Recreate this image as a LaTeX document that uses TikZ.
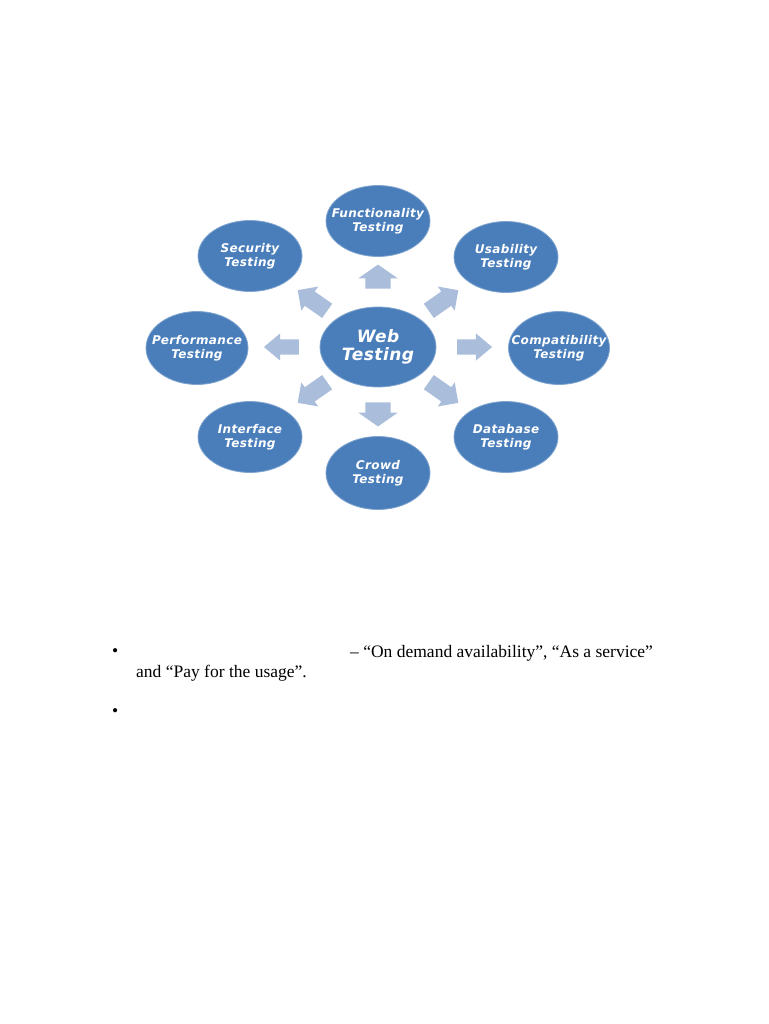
\documentclass[tikz,border=0pt]{standalone}
\usepackage{fontspec}
\setmainfont{Liberation Serif}
\newfontfamily\labfont{DejaVu Sans}[LetterSpace=3]
\usetikzlibrary{shapes.geometric,shapes.arrows}
\definecolor{ellblue}{HTML}{4A7EBB}
\definecolor{arrblue}{HTML}{AABEDC}
\tikzset{
  lab/.style={text=white, align=center, inner sep=0pt, font=\labfont\bfseries\itshape\fontsize{12}{14.5}\selectfont},
  biglab/.style={lab, font=\labfont\bfseries\itshape\fontsize{17}{18.5}\selectfont},
  outer/.style={ellipse, fill=ellblue, draw=ellblue!70!white, line width=0.8pt, minimum width=104pt, minimum height=71pt, inner sep=0pt},
  centre/.style={outer, minimum width=116pt, minimum height=80pt},
  varr/.style={single arrow, fill=arrblue, draw=none, inner xsep=0pt, inner ysep=12.5pt, minimum height=24pt, single arrow head extend=7pt, single arrow tip angle=110},
  harr/.style={single arrow, fill=arrblue, draw=none, inner xsep=0pt, inner ysep=7.5pt, minimum height=35pt, single arrow head extend=6pt, single arrow tip angle=80},
  darr/.style={single arrow, fill=arrblue, draw=none, inner xsep=0pt, inner ysep=8.5pt, minimum height=36pt, single arrow head extend=6pt, single arrow tip angle=90},
  body/.style={font=\fontsize{17.5}{24}\selectfont, anchor=base west, inner sep=0pt}
}
\begin{document}
\begin{tikzpicture}[x=1pt,y=-1pt]
\useasboundingbox[fill=white] (0,0) rectangle (768,1024);
% ellipses
\node[centre, label={[biglab]center:Web\\Testing}] (web) at (378,347) {};
\node[outer, label={[lab]center:Functionality\\Testing}] (func) at (378,221) {};
\node[outer, label={[lab]center:Usability\\Testing}] (usab) at (506,257) {};
\node[outer, minimum width=101pt, minimum height=73pt, label={[lab]center:Compatibility\\Testing}] (comp) at (559,348) {};
\node[outer, label={[lab]center:Database\\Testing}] (db) at (506,437) {};
\node[outer, minimum height=73pt, label={[lab]center:Crowd\\Testing}] (crowd) at (378,473) {};
\node[outer, label={[lab]center:Interface\\Testing}] (intf) at (250,437) {};
\node[outer, minimum width=102pt, minimum height=73pt, label={[lab]center:Performance\\Testing}] (perf) at (197,348) {};
\node[outer, label={[lab]center:Security\\Testing}] (sec) at (250,256) {};
% block arrows
\node[varr, rotate=90] (aup) at (378,281) {};
\node[varr, rotate=-90] (adown) at (378,410) {};
\node[harr, rotate=180] (aleft) at (286,347) {};
\node[harr] (aright) at (470,347) {};
\node[darr, rotate=145] (aul) at (316,303) {};
\node[darr, rotate=35] (aur) at (440,303) {};
\node[darr, rotate=-145] (all) at (316,390) {};
\node[darr, rotate=-35] (alr) at (440,390) {};
% text
\node[body] (b1) at (112,656) {•};
\node[body] (t1) at (350,657) {– “On demand availability”, “As a service”};
\node[body] (t2) at (136,677) {and “Pay for the usage”.};
\node[body] (b2) at (112,716) {•};
\end{tikzpicture}
\end{document}
